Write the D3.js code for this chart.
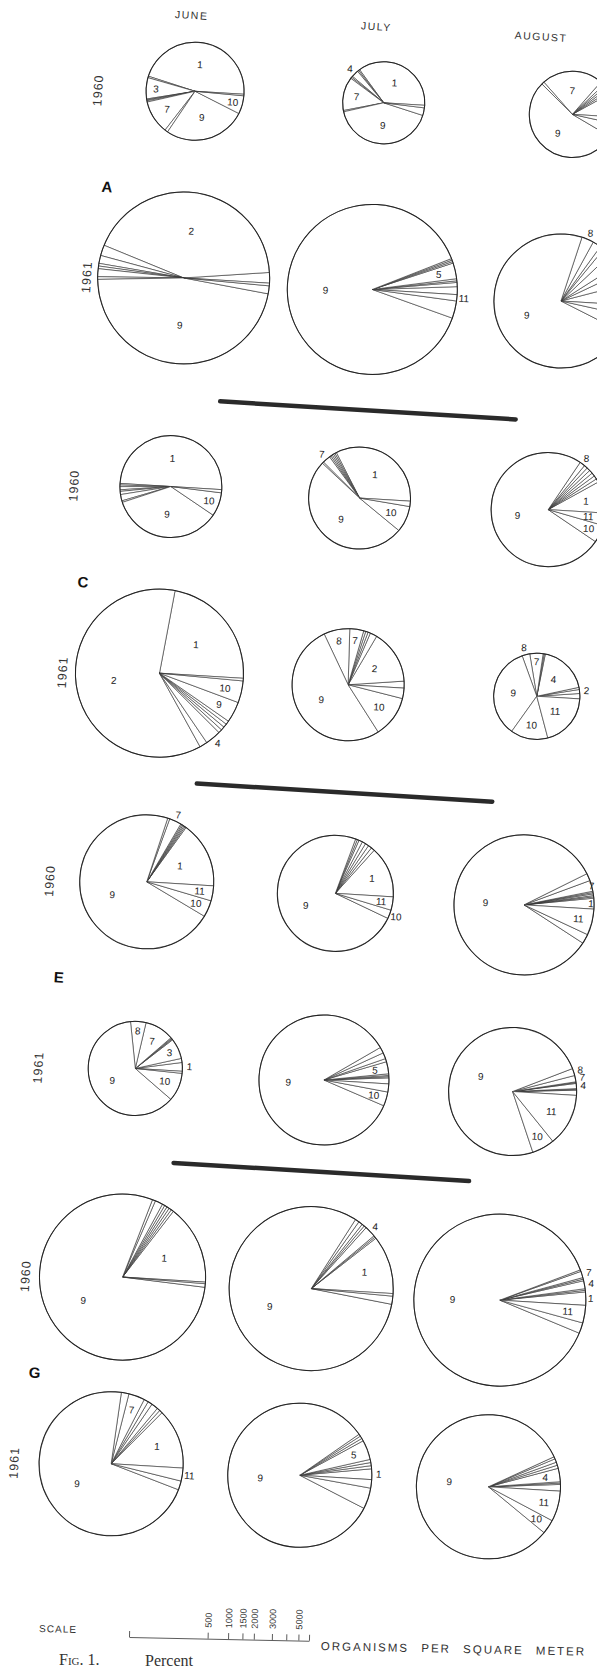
<!DOCTYPE html>
<html>
<head>
<meta charset="utf-8">
<script src="https://cdn.jsdelivr.net/npm/d3@7"></script>
<style>
  body { margin: 0; background: #fff; overflow: hidden; }
  #chart svg { display: block; }
</style>
</head>
<body>
<div id="chart"></div>
<script>
const width = 597;
const height = 1669;

const months = ["JUNE", "JULY", "AUGUST"];
const panels = ["A", "C", "E", "G"];
const years = ["1960", "1961"];

// percent of taxa 1..11 in each pie (June, July, August)
const a1960 = [
    [46, 0.5, 7, 0.3, 0.3, 0.4, 11, 1, 27, 6, 0.5],
    [36, 0.5, 0.5, 2.8, 0.5, 0.5, 13.2, 0.5, 41.5, 3, 1],
    [9, 1, 1, 1, 1, 1.5, 23, 1, 54, 5, 2.5]
];
const a1961 = [
    [2, 43, 2, 1.5, 0.5, 0.5, 1.5, 0.5, 47, 1.5, 0.5],
    [1.5, 0.8, 0.3, 0.4, 3, 0.3, 0.3, 0.3, 88.6, 3.3, 1.2],
    [5, 3, 2, 3, 2, 1, 2, 2.9, 72.6, 4, 2.5]
];
const c1960 = [
    [50, 0.5, 0.5, 1, 0.5, 1, 2, 0.5, 35.5, 7.5, 1],
    [33.5, 0.5, 0.5, 0.5, 0.5, 0.5, 2.5, 0.5, 51, 8.3, 1.7],
    [9, 1, 1, 1, 1, 1, 1, 1.5, 75, 5, 3.5]
];
const c1961 = [
    [23, 61, 1.5, 3, 0.7, 0.7, 0.7, 0.7, 4, 4.2, 0.5],
    [2, 15.5, 2, 0.7, 0.7, 0.6, 4, 7.5, 52, 12, 3],
    [2, 1.5, 0.8, 18.5, 0.4, 0.4, 5, 2.9, 34.6, 14, 19.9]
];
const e1960 = [
    [16, 0.3, 0.3, 0.3, 0.3, 0.3, 2.9, 0.5, 71.5, 4, 3.6],
    [14.3, 1, 1, 1, 1, 1, 0.5, 0.5, 73.6, 2.4, 3.7],
    [2.5, 0.3, 0.3, 0.4, 0.3, 0.3, 2.5, 1.7, 83.5, 2.2, 6]
];
const e1961 = [
    [3, 1.4, 7, 0.3, 0.3, 0.3, 10, 5.3, 62, 9.7, 0.7],
    [1.5, 0.3, 0.3, 0.4, 3, 0.8, 1.5, 1.5, 85.2, 3.5, 2],
    [1.3, 0.2, 0.2, 1.3, 0.2, 0.2, 1.6, 1.8, 74.3, 5.7, 13.2]
];
const g1960 = [
    [15.5, 0.5, 0.5, 0.5, 0.5, 0.5, 1.5, 0.6, 78.9, 0.7, 0.3],
    [11.5, 0.3, 0.3, 2.2, 0.5, 0.5, 0.8, 0.8, 81, 1.6, 0.5],
    [2.5, 0.3, 0.3, 1.5, 0.3, 0.3, 1.2, 0.3, 88, 2, 3.3]
];
const g1961 = [
    [13.5, 0.7, 0.7, 1.5, 1, 1, 3.6, 1.7, 71.4, 2, 2.9],
    [2.4, 0.7, 0.7, 0.7, 4.4, 0.6, 0.6, 0.5, 82.8, 4.7, 1.9],
    [1.5, 0.3, 0.3, 3, 0.7, 0.7, 0.8, 0.5, 82.2, 3.2, 6.8]
];

// organisms per square meter (sets the pie size)
const totalsA = [[970, 570, 660], [5240, 5060, 2480]];
const totalsC = [[1090, 1090, 1530], [4890, 1450, 660]];
const totalsE = [[2480, 1610, 2830], [860, 2260, 2160]];
const totalsG = [[4720, 4550, 5240], [3080, 3080, 3080]];

// which taxa carry a number in each pie
const labelsA = [
    [[1, 3, 7, 9, 10], [1, 4, 7, 9], [7, 9]],
    [[2, 9], [5, 9, 11], [8, 9]]
];
const labelsC = [
    [[1, 9, 10], [1, 7, 9, 10], [1, 8, 9, 10, 11]],
    [[1, 2, 4, 9, 10], [2, 7, 8, 9, 10], [2, 4, 7, 8, 9, 10, 11]]
];
const labelsE = [
    [[1, 7, 9, 10, 11], [1, 9, 10, 11], [1, 7, 9, 11]],
    [[1, 3, 7, 8, 9, 10], [5, 9, 10], [4, 7, 8, 9, 10, 11]]
];
const labelsG = [
    [[1, 9], [1, 4, 9], [1, 4, 7, 9, 11]],
    [[1, 7, 9, 11], [1, 5, 9], [4, 9, 10, 11]]
];

const scaleTicks = [0, 500, 1000, 1500, 2000, 3000, 4000, 5000, 6000];
const scaleLabels = [500, 1000, 1500, 2000, 3000, 5000];

const tilt = 3.5;          // degrees the scanned page is turned
const pivot = [300, 800];

document.addEventListener('DOMContentLoaded', () => {
    drawFigure();
});

function drawFigure(){
    const comp = { A1960: a1960, A1961: a1961, C1960: c1960, C1961: c1961,
                   E1960: e1960, E1961: e1961, G1960: g1960, G1961: g1961 };
    const totals = { A: totalsA, C: totalsC, E: totalsE, G: totalsG };
    const labels = { A: labelsA, C: labelsC, E: labelsE, G: labelsG };

    const pies = [];
    panels.forEach(p => {
        years.forEach((y, yi) => {
            months.forEach((m, mi) => {
                pies.push({
                    panel: p, year: y, month: m,
                    values: comp[p + y][mi],
                    total: totals[p][yi][mi],
                    labels: labels[p][yi][mi]
                });
            });
        });
    });

    const svg = d3.select('#chart')
        .append('svg')
        .attr('width', width)
        .attr('height', height)
        .attr('viewBox', `0 0 ${width} ${height}`)
        .style('background', '#fff');

    const font = '"Liberation Sans", "DejaVu Sans", sans-serif';

    const colX = d3.scalePoint().domain(months).range([152, 530]);
    const panelY = d3.scalePoint().domain(panels).range([99, 1287]);
    const yearGap = 187;
    const rowY = (p, y) => panelY(p) + (y === "1961" ? yearGap : 0);

    // diameter of a pie, same as the scale bar at the bottom
    const sizeScale = d3.scalePow().exponent(1 / 3).domain([0, 6000]).range([0, 180]);

    const pie = d3.pie()
        .sort(null)
        .value(d => d)
        .startAngle(Math.PI / 2)
        .endAngle(Math.PI / 2 - 2 * Math.PI);  // counter-clockwise from 3 o'clock

    const rad = tilt * Math.PI / 180;
    const screenX = (x, y) => pivot[0] + (x - pivot[0]) * Math.cos(rad) - (y - pivot[1]) * Math.sin(rad);

    // the printed page sits a little tilted in the scan
    const fig = svg.append('g').attr('transform', `rotate(${tilt}, ${pivot[0]}, ${pivot[1]})`);

    // month headings
    const monthShift = [-8, -12, -36];
    fig.selectAll('text.month')
        .data(months)
        .join('text')
        .attr('class', 'month')
        .attr('x', (d, i) => colX(d) + monthShift[i])
        .attr('y', 27)
        .attr('text-anchor', 'middle')
        .style('font-family', font)
        .style('font-size', '10.5px')
        .style('letter-spacing', '1.5px')
        .style('fill', '#333')
        .text(d => d);

    // year labels and panel letters
    panels.forEach(p => {
        years.forEach(y => {
            fig.append('text')
                .attr('transform', `translate(55, ${rowY(p, y) + 5}) rotate(-90)`)
                .attr('text-anchor', 'middle')
                .attr('dy', '0.35em')
                .style('font-family', font)
                .style('font-size', '12.5px')
                .style('letter-spacing', '1px')
                .style('fill', '#333')
                .text(y);
        });
        fig.append('text')
            .attr('x', 70)
            .attr('y', panelY(p) + 106)
            .attr('text-anchor', 'middle')
            .style('font-family', font)
            .style('font-size', '15px')
            .style('font-weight', 'bold')
            .style('fill', '#111')
            .text(p);
    });

    // separator bars between panels
    panels.slice(1).forEach(p => {
        const maxR = d3.max(pies.filter(d => d.panel === p && d.year === "1960"), d => sizeScale(d.total) / 2);
        const y = rowY(p, "1960") - maxR - 31;
        fig.append('line')
            .attr('x1', colX("JUNE") + 44)
            .attr('x2', colX("AUGUST") - 38)
            .attr('y1', y)
            .attr('y2', y)
            .style('stroke', '#2a2a2a')
            .style('stroke-width', 4.5)
            .style('stroke-linecap', 'round');
    });

    const pieGroups = fig.selectAll('g.pie')
        .data(pies)
        .join('g')
        .attr('class', 'pie')
        .attr('transform', d => `translate(${colX(d.month)}, ${rowY(d.panel, d.year)})`);

    pieGroups.each(function(d) {
        const g = d3.select(this);
        const r = sizeScale(d.total) / 2;
        const arcs = pie(d.values);
        const sum = d3.sum(d.values);
        const arc = d3.arc().innerRadius(0).outerRadius(r);
        const cx = colX(d.month);
        const cy = rowY(d.panel, d.year);

        g.selectAll('path')
            .data(arcs)
            .join('path')
            .attr('d', arc)
            .style('fill', '#fff')
            .style('stroke', '#333')
            .style('stroke-width', 0.6)
            .style('stroke-linejoin', 'round');

        g.append('circle')
            .attr('r', r)
            .style('fill', 'none')
            .style('stroke', '#222')
            .style('stroke-width', 1);

        const labelRadius = frac => {
            if (frac < 0.03) return r + 7;
            if (frac < 0.08) return r * 0.8;
            if (frac < 0.15) return r * 0.68;
            return r * 0.55;
        };

        // keep numbers on the page near the cut right edge
        const place = a => {
            const half = (a.index + 1) > 9 ? 6 : 3.5;
            let lr = labelRadius(a.value / sum);
            let c = d3.arc().innerRadius(lr).outerRadius(lr).centroid(a);
            while (screenX(cx + c[0], cy + c[1]) + half > width - 2 && lr > r * 0.3) {
                lr -= 1;
                c = d3.arc().innerRadius(lr).outerRadius(lr).centroid(a);
            }
            return c;
        };

        g.selectAll('text')
            .data(arcs.filter(a => d.labels.includes(a.index + 1)))
            .join('text')
            .attr('transform', a => {
                const c = place(a);
                return `translate(${c[0]}, ${c[1]})`;
            })
            .attr('text-anchor', 'middle')
            .attr('dy', '0.35em')
            .style('font-family', font)
            .style('font-size', '10px')
            .style('fill', '#222')
            .text(a => a.index + 1);
    });

    // size scale at the bottom
    const scaleG = svg.append('g')
        .attr('transform', 'translate(129, 1637) rotate(1.2)');

    const scaleAxis = d3.axisTop(sizeScale)
        .tickValues(scaleTicks)
        .tickSizeInner(6)
        .tickSizeOuter(0)
        .tickFormat(d => scaleLabels.includes(d) ? d : "");

    scaleG.call(scaleAxis);
    scaleG.select('.domain').style('stroke', '#333').style('stroke-width', 0.8);
    scaleG.selectAll('.tick line').style('stroke', '#333').style('stroke-width', 0.8);
    scaleG.selectAll('.tick text')
        .attr('transform', 'rotate(-90)')
        .attr('x', 11)
        .attr('y', 0)
        .attr('dy', '0.35em')
        .attr('text-anchor', 'start')
        .style('font-family', font)
        .style('font-size', '9px')
        .style('fill', '#333');

    scaleG.append('text')
        .attr('x', -90)
        .attr('y', -3)
        .attr('text-anchor', 'start')
        .style('font-family', font)
        .style('font-size', '10px')
        .style('letter-spacing', '1px')
        .style('fill', '#333')
        .text('SCALE');

    scaleG.append('text')
        .attr('x', 192)
        .attr('y', 9)
        .attr('text-anchor', 'start')
        .style('font-family', font)
        .style('font-size', '11.5px')
        .style('letter-spacing', '2px')
        .style('word-spacing', '7px')
        .style('fill', '#333')
        .text('ORGANISMS PER SQUARE METER');

    // caption along the bottom edge
    const cap = svg.append('text')
        .attr('x', 59)
        .attr('y', 1665)
        .style('font-family', '"Liberation Serif", "DejaVu Serif", serif')
        .style('font-size', '16px')
        .style('fill', '#333');
    cap.append('tspan').style('font-variant', 'small-caps').text('Fig. 1.');
    cap.append('tspan').attr('x', 145).attr('dy', 1).text('Percent');
}
</script>
</body>
</html>
